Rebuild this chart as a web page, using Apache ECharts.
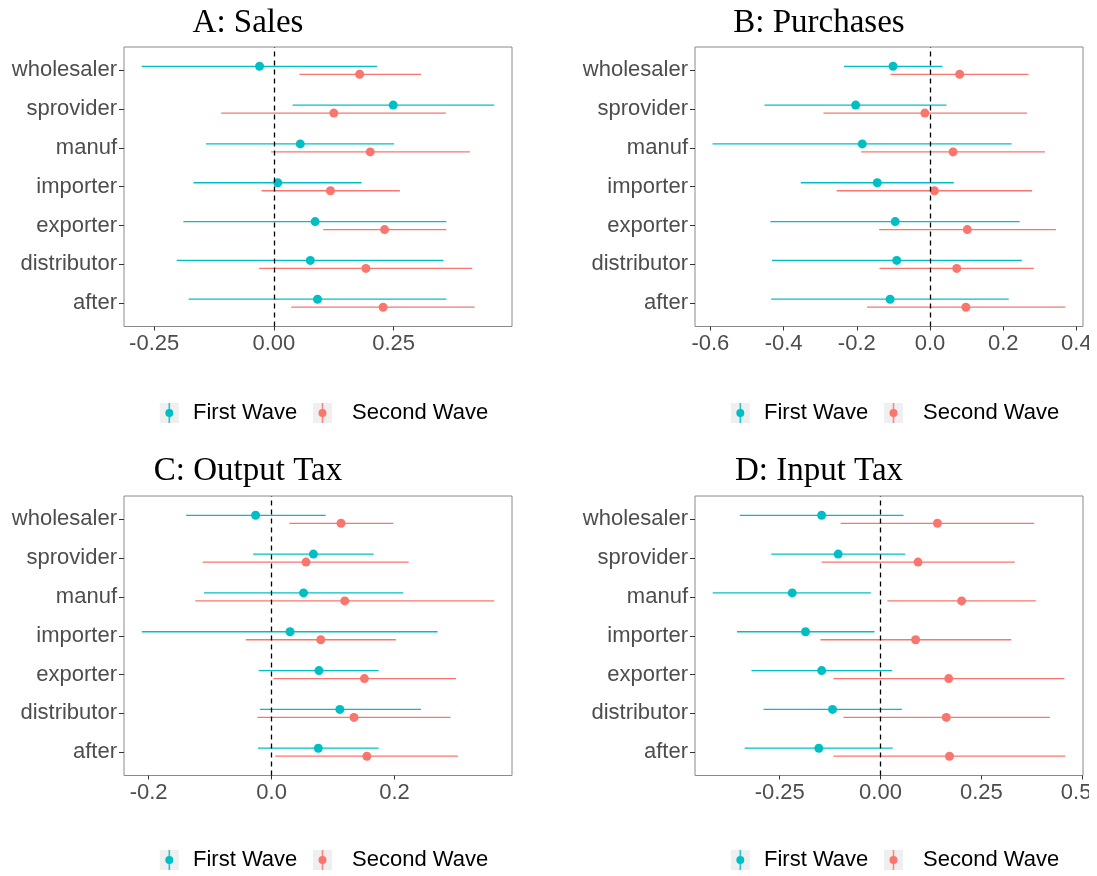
<!DOCTYPE html>
<html>
<head>
<meta charset="utf-8">
<script src="https://cdn.jsdelivr.net/npm/echarts@6/dist/echarts.min.js"></script>
<style>
  html, body { margin: 0; padding: 0; background: #fff; }
  #chart { width: 1089px; height: 876px; }
</style>
</head>
<body>
<div id="chart"></div>
<script>
// ---------- data ----------
const categories = ["wholesaler", "sprovider", "manuf", "importer", "exporter", "distributor", "after"];
const seriesNames = ["First Wave", "Second Wave"];
const panelTitles = ["A: Sales", "B: Purchases", "C: Output Tax", "D: Input Tax"];

// each row: [low, estimate, high], in category order
const salesFirst = [[-0.276,-0.030,0.215],[0.039,0.249,0.460],[-0.142,0.055,0.251],[-0.168,0.008,0.183],[-0.189,0.086,0.360],[-0.203,0.076,0.354],[-0.178,0.091,0.360]];
const salesSecond = [[0.053,0.179,0.307],[-0.110,0.125,0.359],[-0.006,0.201,0.409],[-0.026,0.118,0.263],[0.103,0.231,0.360],[-0.031,0.192,0.414],[0.036,0.228,0.419]];
const purchFirst = [[-0.235,-0.101,0.034],[-0.452,-0.203,0.045],[-0.594,-0.185,0.223],[-0.353,-0.144,0.065],[-0.436,-0.095,0.245],[-0.432,-0.091,0.251],[-0.434,-0.109,0.215]];
const purchSecond = [[-0.108,0.081,0.269],[-0.291,-0.014,0.265],[-0.188,0.063,0.314],[-0.255,0.012,0.279],[-0.139,0.102,0.344],[-0.138,0.073,0.284],[-0.172,0.098,0.370]];
const outFirst = [[-0.139,-0.026,0.088],[-0.030,0.068,0.166],[-0.110,0.052,0.214],[-0.211,0.030,0.270],[-0.021,0.077,0.174],[-0.019,0.111,0.243],[-0.022,0.076,0.174]];
const outSecond = [[0.029,0.113,0.198],[-0.112,0.056,0.223],[-0.124,0.119,0.362],[-0.042,0.080,0.202],[0.003,0.151,0.300],[-0.023,0.134,0.291],[0.006,0.155,0.303]];
const inFirst = [[-0.349,-0.146,0.057],[-0.271,-0.105,0.061],[-0.416,-0.219,-0.024],[-0.356,-0.186,-0.015],[-0.320,-0.146,0.029],[-0.290,-0.119,0.053],[-0.337,-0.153,0.030]];
const inSecond = [[-0.099,0.141,0.381],[-0.146,0.093,0.333],[0.017,0.201,0.385],[-0.149,0.087,0.324],[-0.117,0.169,0.456],[-0.092,0.163,0.420],[-0.117,0.171,0.458]];

const salesTicks = [-0.25, 0, 0.25];
const purchTicks = [-0.6, -0.4, -0.2, 0, 0.2, 0.4];
const outTicks = [-0.2, 0, 0.2];
const inTicks = [-0.25, 0, 0.25, 0.5];

// ---------- layout / style ----------
const colors = ["#00BFC4", "#F8766D"];
const SANS = "'Liberation Sans', Arial, sans-serif";
const SERIF = "'Liberation Serif', 'Times New Roman', serif";
const panels = [
  { first: salesFirst, second: salesSecond, ticks: salesTicks, dec: 2, min: -0.313, max: 0.497, left: 124, top: 47, titleX: 248, titleY: 7, legX: 0, legY: 413 },
  { first: purchFirst, second: purchSecond, ticks: purchTicks, dec: 1, min: -0.642, max: 0.418, left: 695, top: 47, titleX: 819, titleY: 7, legX: 571, legY: 413 },
  { first: outFirst, second: outSecond, ticks: outTicks, dec: 1, min: -0.240, max: 0.391, left: 124, top: 496, titleX: 248, titleY: 455, legX: 0, legY: 860 },
  { first: inFirst, second: inSecond, ticks: inTicks, dec: 2, min: -0.460, max: 0.502, left: 695, top: 496, titleX: 819, titleY: 455, legX: 571, legY: 860 }
];
const GW = 388, GH = 279.5, DODGE = 0.103;
const nCat = categories.length;

const chart = echarts.init(document.getElementById('chart'), null, { renderer: 'canvas' });

const grid = [], xAxis = [], yAxis = [], series = [], title = [], graphic = [];
const yPositions = [1, 2, 3, 4, 5, 6, 7];

function errorBarSeries(name, rows, offset, idx, color, withZeroLine) {
  const s = {
    name: name,
    type: 'custom',
    xAxisIndex: idx, yAxisIndex: idx,
    z: 2,
    color: color,
    encode: { x: [0, 1], y: 2 },
    data: rows.map((r, i) => [r[0], r[2], (nCat - i) + offset]),
    renderItem: function (params, api) {
      const y = api.value(2);
      const p1 = api.coord([api.value(0), y]);
      const p2 = api.coord([api.value(1), y]);
      return { type: 'line', shape: { x1: p1[0], y1: p1[1], x2: p2[0], y2: p2[1] },
               style: { stroke: color, lineWidth: 1.3 } };
    },
    silent: true
  };
  if (withZeroLine) {
    s.markLine = {
      silent: true, symbol: ['none', 'none'], label: { show: false },
      lineStyle: { color: '#000', type: [5, 4], width: 1.3 },
      data: [{ xAxis: 0 }]
    };
  }
  return s;
}

panels.forEach((p, idx) => {
  grid.push({ left: p.left, top: p.top, width: GW, height: GH, show: true,
              borderColor: '#8a8a8a', borderWidth: 1, backgroundColor: '#fff',
              containLabel: false, outerBoundsMode: 'none' });
  xAxis.push({
    type: 'value', gridIndex: idx, min: p.min, max: p.max,
    axisLine: { show: false, onZero: false },
    splitLine: { show: false },
    axisTick: { show: true, length: 4, inside: false, customValues: p.ticks, lineStyle: { color: '#333' } },
    axisLabel: { customValues: p.ticks, margin: 6, color: '#4D4D4D', fontSize: 22, fontFamily: SANS,
                 hideOverlap: false,
                 formatter: v => (Math.abs(v) < 1e-9 ? 0 : v).toFixed(p.dec) }
  });
  yAxis.push({
    type: 'value', gridIndex: idx, min: 0.4, max: 7.6,
    axisLine: { show: false, onZero: false },
    splitLine: { show: false },
    axisTick: { show: true, length: 5, inside: false, customValues: yPositions, lineStyle: { color: '#333' } },
    axisLabel: { customValues: yPositions, margin: 7, color: '#4D4D4D', fontSize: 22, fontFamily: SANS,
                 formatter: v => categories[nCat - Math.round(v)] }
  });
  series.push(errorBarSeries(seriesNames[0], p.first, DODGE, idx, colors[0], true));
  series.push(errorBarSeries(seriesNames[1], p.second, -DODGE, idx, colors[1], false));
  series.push({ name: seriesNames[0], type: 'scatter', xAxisIndex: idx, yAxisIndex: idx, z: 3,
                symbol: 'circle', symbolSize: 9, itemStyle: { color: colors[0], opacity: 1 },
                data: p.first.map((r, i) => [r[1], (nCat - i) + DODGE]) });
  series.push({ name: seriesNames[1], type: 'scatter', xAxisIndex: idx, yAxisIndex: idx, z: 3,
                symbol: 'circle', symbolSize: 9, itemStyle: { color: colors[1], opacity: 1 },
                data: p.second.map((r, i) => [r[1], (nCat - i) - DODGE]) });
  title.push({ text: panelTitles[idx], left: p.titleX, top: p.titleY, textAlign: 'center', padding: 0,
               textStyle: { fontFamily: SERIF, fontSize: 33, fontWeight: 'normal', color: '#000' } });
  // legend (key boxes with point-range glyph + labels)
  const keyCx = [p.legX + 169.3, p.legX + 322.5];
  const textX = [p.legX + 193, p.legX + 352];
  const cy = p.legY;
  keyCx.forEach((cx, k) => {
    graphic.push({ type: 'rect', z: 0, silent: true, shape: { x: cx - 9.5, y: cy - 10, width: 19, height: 20 },
                   style: { fill: '#EFEFEF' } });
    graphic.push({ type: 'line', z: 1, silent: true, shape: { x1: cx, y1: cy - 10, x2: cx, y2: cy + 10 },
                   style: { stroke: colors[k], lineWidth: 1.6, opacity: 0.85 } });
    graphic.push({ type: 'circle', z: 2, silent: true, shape: { cx: cx, cy: cy, r: 4 },
                   style: { fill: colors[k] } });
    graphic.push({ type: 'text', z: 2, silent: true, x: textX[k], y: cy,
                   style: { text: seriesNames[k], fill: '#000', font: '22px ' + SANS,
                            textAlign: 'left', textVerticalAlign: 'middle' } });
  });
});

chart.setOption({
  backgroundColor: '#fff',
  animation: false,
  title: title, grid: grid, xAxis: xAxis, yAxis: yAxis,
  series: series, graphic: graphic
});
</script>
</body>
</html>
